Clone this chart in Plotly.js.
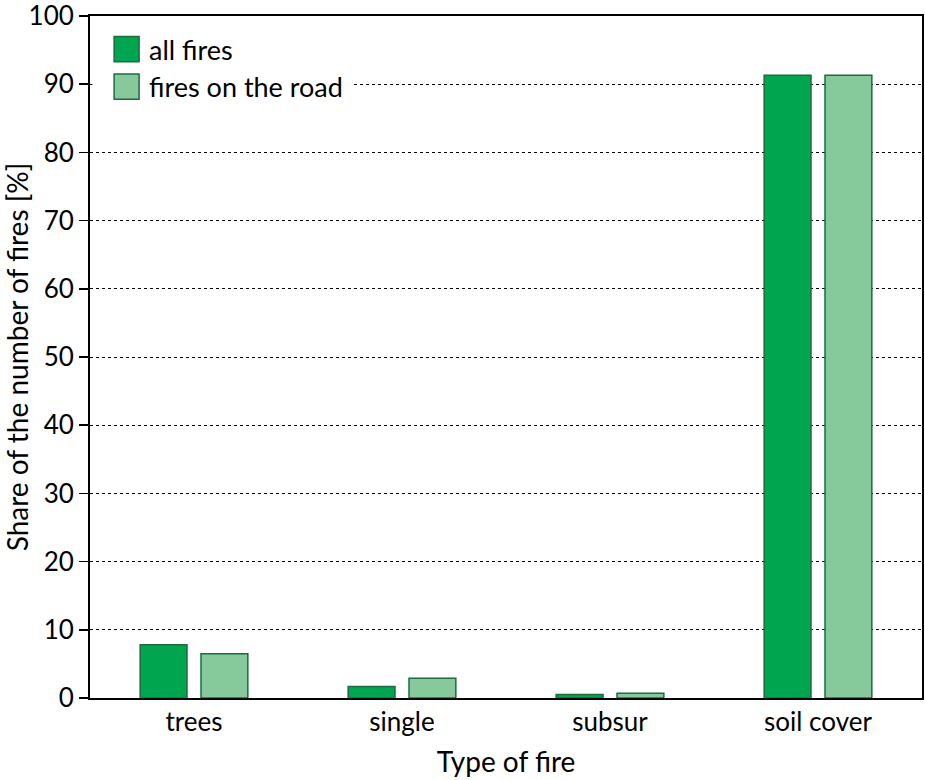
<!DOCTYPE html>
<html>
<head>
<meta charset="utf-8">
<script src="https://cdn.plot.ly/plotly-3.0.1.min.js"></script>
<style>html,body{margin:0;padding:0;background:#fff;}#chart{width:925px;height:780px;}</style>
</head>
<body>
<div id="chart"></div>
<script>
var categories = ["trees", "single", "subsur", "soil cover"];
var seriesNames = ["all fires", "fires on the road"];
var allFires = [7.8, 1.7, 0.5, 91.3];
var roadFires = [6.5, 2.9, 0.7, 91.3];
var yTicks = [0, 10, 20, 30, 40, 50, 60, 70, 80, 90, 100];

var FONT = "Lato, 'Open Sans', sans-serif";
var darkFill = "#00a54f";
var lightFill = "#86c99b";
var edge = "#1d6b3f";

var traces = [
  {type: "bar", x: categories, y: allFires, name: seriesNames[0],
   marker: {color: darkFill, line: {color: edge, width: 1.5}}, showlegend: false},
  {type: "bar", x: categories, y: roadFires, name: seriesNames[1],
   marker: {color: lightFill, line: {color: edge, width: 1.5}}, showlegend: false}
];

var legendColors = [darkFill, lightFill];
var shapes = [
  {type: "rect", xref: "paper", yref: "paper", x0: 0.003, x1: 0.317, y0: 0.86, y1: 0.997,
   fillcolor: "#ffffff", line: {width: 0}, layer: "above"}
];
var annotations = [];
var legendTop = [0.970, 0.915];
seriesNames.forEach(function (n, i) {
  shapes.push({type: "rect", xref: "paper", yref: "paper",
    x0: 0.029, x1: 0.059, y0: legendTop[i] - 0.037, y1: legendTop[i],
    fillcolor: legendColors[i], line: {color: edge, width: 1.5}, layer: "above"});
  annotations.push({xref: "paper", yref: "paper", x: 0.0685, y: legendTop[i] - 0.0185,
    xanchor: "left", yanchor: "middle", showarrow: false, text: n,
    font: {family: FONT, size: 27, color: "#000"}});
});

var layout = {
  width: 925, height: 780,
  margin: {l: 90, r: 3, t: 16, b: 82},
  paper_bgcolor: "#fff", plot_bgcolor: "#fff",
  barmode: "group", bargap: 0.415, bargroupgap: 0.23,
  font: {family: FONT, size: 26, color: "#000"},
  xaxis: {type: "category", showline: true, linecolor: "#000", linewidth: 2, mirror: true,
    ticks: "", showgrid: false, tickfont: {family: FONT, size: 26},
    title: {text: "Type of fire", font: {family: FONT, size: 28}, standoff: 16}},
  yaxis: {range: [0, 100.001], tickvals: yTicks, ticktext: yTicks.map(String),
    ticklabeloverflow: "allow",
    showline: true, linecolor: "#000", linewidth: 2, mirror: true,
    ticks: "outside", ticklen: 9, tickwidth: 1.5, tickcolor: "#000",
    showgrid: true, gridcolor: "#000", gridwidth: 1, griddash: "dot",
    zeroline: false, tickfont: {family: FONT, size: 26},
    title: {text: "Share of the number of fires [%]", font: {family: FONT, size: 28}, standoff: 10}},
  shapes: shapes,
  annotations: annotations
};

Plotly.newPlot("chart", traces, layout, {displayModeBar: false, staticPlot: true});
</script>
</body>
</html>
